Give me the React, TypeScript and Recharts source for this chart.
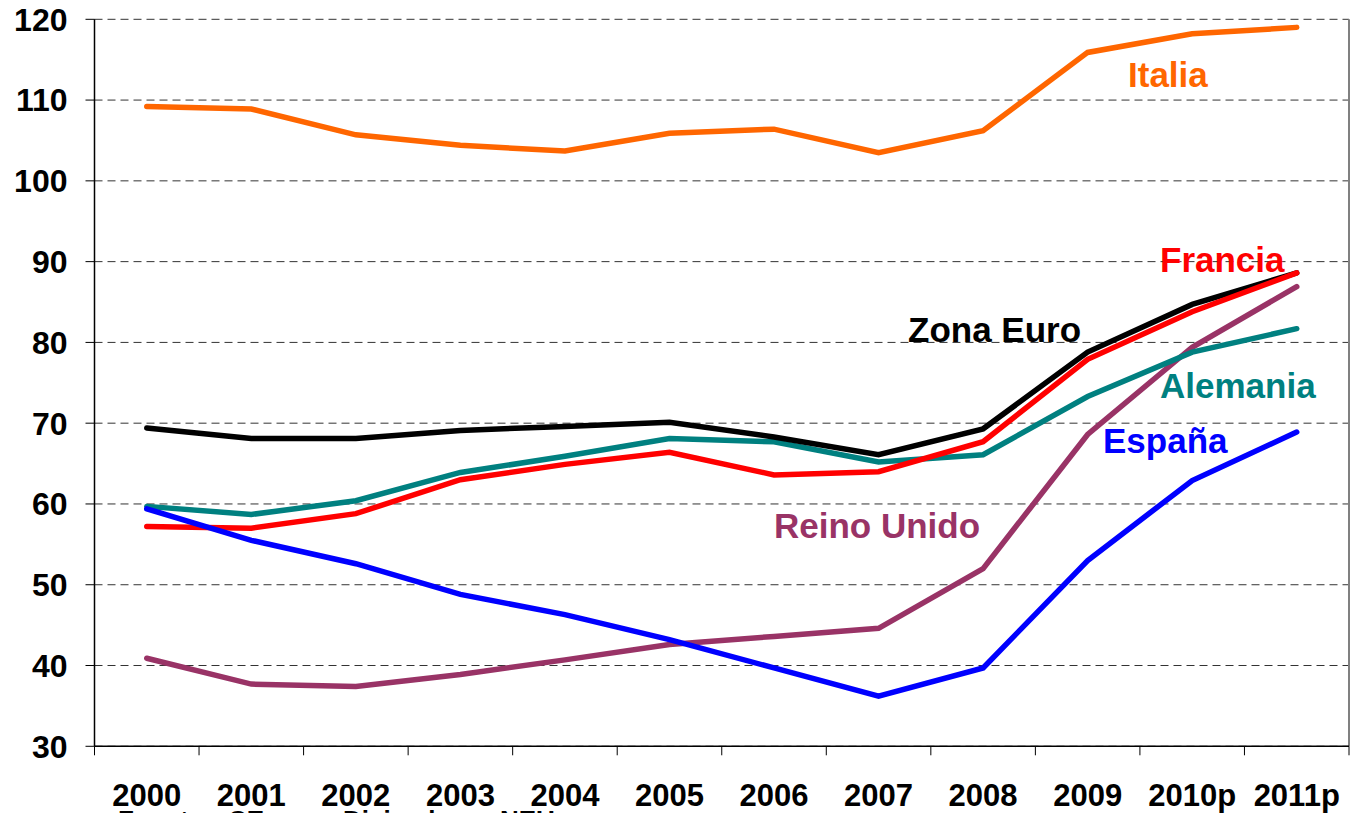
import React from 'react';
import { LineChart, Line, XAxis, YAxis, CartesianGrid, ReferenceLine, Customized } from 'recharts';

const years = ['2000', '2001', '2002', '2003', '2004', '2005', '2006', '2007', '2008', '2009', '2010p', '2011p'];
const italia = [109.2, 108.9, 105.7, 104.4, 103.7, 105.9, 106.4, 103.5, 106.2, 115.9, 118.2, 119.0];
const zonaEuro = [69.4, 68.1, 68.1, 69.1, 69.6, 70.1, 68.3, 66.1, 69.3, 78.8, 84.7, 88.6];
const francia = [57.2, 57.0, 58.8, 63.0, 64.9, 66.4, 63.6, 64.0, 67.7, 77.9, 83.8, 88.6];
const alemania = [59.7, 58.7, 60.4, 63.9, 65.9, 68.1, 67.7, 65.2, 66.1, 73.3, 78.8, 81.7];
const espana = [59.4, 55.5, 52.6, 48.8, 46.3, 43.2, 39.7, 36.2, 39.7, 53.0, 62.9, 68.9];
const reinoUnido = [40.9, 37.7, 37.4, 38.9, 40.7, 42.6, 43.6, 44.6, 52.0, 68.6, 79.4, 86.9];
const yTicks = [30, 40, 50, 60, 70, 80, 90, 100, 110, 120];

const data = years.map((y, i) => ({
  idx: i,
  year: y,
  italia: italia[i],
  zonaEuro: zonaEuro[i],
  francia: francia[i],
  alemania: alemania[i],
  espana: espana[i],
  reinoUnido: reinoUnido[i],
}));

const centerTicks = years.map((_, i) => i);
const boundaryTicks = [...years.map((_, i) => i - 0.5), years.length - 0.5];

const FONT = '"Liberation Sans", Arial, Helvetica, sans-serif';

const seriesLabels = [
  { text: 'Italia', color: '#FF6600', x: 1128, y: 87 },
  { text: 'Francia', color: '#FF0000', x: 1160, y: 272 },
  { text: 'Zona Euro', color: '#000000', x: 908, y: 342 },
  { text: 'Alemania', color: '#008080', x: 1160, y: 398 },
  { text: 'España', color: '#0000FF', x: 1103, y: 453 },
  { text: 'Reino Unido', color: '#993366', x: 774, y: 538 },
];

const Annotations = () => (
  <g>
    {seriesLabels.map((l) => (
      <text key={l.text} x={l.x} y={l.y} fill={l.color} fontFamily={FONT} fontWeight="bold" fontSize={35}>
        {l.text}
      </text>
    ))}
    <g fontFamily={FONT} fontWeight="bold" fontSize={26} fill="#000">
      <text x={118} y={829}>Fuente:</text>
      <text x={228} y={829}>CE</text>
      <text x={343} y={829}>Diciembre</text>
      <text x={500} y={829}>NEU</text>
    </g>
  </g>
);

const EmptyTick = () => <g />;

const lineProps = {
  xAxisId: 'm',
  type: 'linear' as const,
  strokeWidth: 5.5,
  dot: false,
  activeDot: false,
  strokeLinecap: 'round' as const,
  isAnimationActive: false,
};

export default function App() {
  return (
    <div style={{ position: 'absolute', left: 0, top: 0, width: 1358, height: 813, background: '#fff' }}>
      <LineChart width={1358} height={813} data={data} margin={{ top: 19.3, right: 9, left: 0, bottom: 0 }}>
        <XAxis
          xAxisId="b"
          type="number"
          dataKey="idx"
          domain={[-0.5, 11.5]}
          ticks={boundaryTicks}
          interval={0}
          height={0.01}
          axisLine={false}
          tick={EmptyTick}
          tickSize={9}
          tickLine={{ stroke: '#000', strokeWidth: 1 }}
        />
        <XAxis
          xAxisId="m"
          type="number"
          dataKey="idx"
          domain={[-0.5, 11.5]}
          ticks={centerTicks}
          interval={0}
          height={66.7}
          tickFormatter={(v: number) => years[v] ?? ''}
          axisLine={{ stroke: '#000', strokeWidth: 1.5 }}
          tickLine={{ stroke: 'none' }}
          tickSize={6}
          tickMargin={32}
          tick={{ fill: '#000', fontSize: 31, fontWeight: 'bold', fontFamily: FONT }}
        />
        <YAxis
          type="number"
          domain={[30, 120]}
          ticks={yTicks}
          interval={0}
          width={94.5}
          axisLine={{ stroke: '#000', strokeWidth: 1.5 }}
          tickLine={{ stroke: '#000', strokeWidth: 1 }}
          tickSize={9}
          tickMargin={18}
          tick={{ fill: '#000', fontSize: 32, fontWeight: 'bold', fontFamily: FONT }}
        />
        <CartesianGrid xAxisId="m" vertical={false} stroke="#333" strokeDasharray="8 5" />
        <ReferenceLine xAxisId="m" x={11.5} stroke="#808080" strokeWidth={2} />
        <Line {...lineProps} dataKey="italia" stroke="#FF6600" />
        <Line {...lineProps} dataKey="reinoUnido" stroke="#993366" />
        <Line {...lineProps} dataKey="alemania" stroke="#008080" />
        <Line {...lineProps} dataKey="zonaEuro" stroke="#000000" />
        <Line {...lineProps} dataKey="francia" stroke="#FF0000" />
        <Line {...lineProps} dataKey="espana" stroke="#0000FF" />
        <Customized component={Annotations} />
      </LineChart>
    </div>
  );
}
